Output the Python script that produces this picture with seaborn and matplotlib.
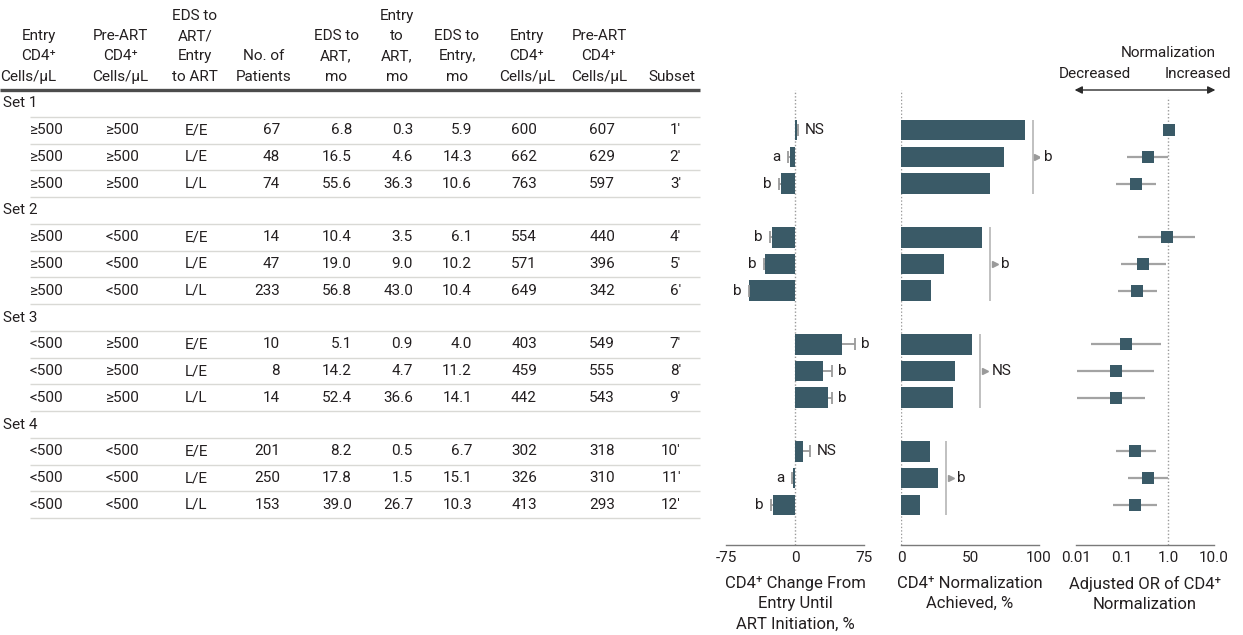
import numpy as np
import pandas as pd
import matplotlib
matplotlib.use("Agg")
import matplotlib.pyplot as plt
import matplotlib.transforms as mtransforms
import seaborn as sns

# === DATA ===
SET_NAMES = ["Set 1", "Set 2", "Set 3", "Set 4"]
ENTRY_CD4_GROUP = ["≥500"] * 6 + ["<500"] * 6
PREART_CD4_GROUP = ["≥500"] * 3 + ["<500"] * 3 + ["≥500"] * 3 + ["<500"] * 3
TIMING = ["E/E", "L/E", "L/L"] * 4
N_PATIENTS = [67, 48, 74, 14, 47, 233, 10, 8, 14, 201, 250, 153]
EDS_TO_ART = ["6.8", "16.5", "55.6", "10.4", "19.0", "56.8", "5.1", "14.2", "52.4", "8.2", "17.8", "39.0"]
ENTRY_TO_ART = ["0.3", "4.6", "36.3", "3.5", "9.0", "43.0", "0.9", "4.7", "36.6", "0.5", "1.5", "26.7"]
EDS_TO_ENTRY = ["5.9", "14.3", "10.6", "6.1", "10.2", "10.4", "4.0", "11.2", "14.1", "6.7", "15.1", "10.3"]
ENTRY_CD4 = [600, 662, 763, 554, 571, 649, 403, 459, 442, 302, 326, 413]
PREART_CD4 = [607, 629, 597, 440, 396, 342, 549, 555, 543, 318, 310, 293]
SUBSET = ["1′", "2′", "3′", "4′", "5′", "6′", "7′", "8′", "9′", "10′", "11′", "12′"]

# panel 1: CD4 change from entry until ART initiation, % (bar + one-sided error)
CD4_CHANGE = [2.0, -5.7, -14.7, -24.8, -32.8, -49.8, 50.9, 30.6, 35.7, 8.5, -2.4, -23.7]
CD4_CHANGE_ERR = [1.0, 2.1, 2.9, 2.9, 1.1, 0.7, 13.8, 9.1, 4.0, 7.6, 1.1, 2.9]
CD4_CHANGE_SIG = ["NS", "a", "b", "b", "b", "b", "b", "b", "b", "NS", "a", "b"]

# panel 2: CD4 normalization achieved, %
NORM_PCT = [89.6, 74.4, 64.5, 58.5, 31.4, 22.0, 51.4, 39.1, 37.5, 21.2, 26.8, 13.8]
NORM_SIG = ["b", "b", "NS", "b"]

# panel 3: adjusted OR of CD4 normalization (95% CI)
OR_EST = [1.05, 0.36, 0.20, 0.94, 0.29, 0.21, 0.124, 0.073, 0.073, 0.195, 0.36, 0.19]
OR_LO = [0.85, 0.126, 0.074, 0.22, 0.094, 0.083, 0.021, 0.0107, 0.0107, 0.074, 0.137, 0.063]
OR_HI = [1.25, 1.0, 0.55, 3.9, 0.89, 0.58, 0.69, 0.50, 0.31, 0.55, 1.0, 0.58]

HEADERS = [
    ["Entry", "CD4⁺", "Cells/µL"],
    ["Pre-ART", "CD4⁺", "Cells/µL"],
    ["EDS to", "ART/", "Entry", "to ART"],
    ["No. of", "Patients"],
    ["EDS to", "ART,", "mo"],
    ["Entry", "to", "ART,", "mo"],
    ["EDS to", "Entry,", "mo"],
    ["Entry", "CD4⁺", "Cells/µL"],
    ["Pre-ART", "CD4⁺", "Cells/µL"],
    ["Subset"],
]
X_LABELS = ["CD4⁺ Change From\nEntry Until\nART Initiation, %",
            "CD4⁺ Normalization\nAchieved, %",
            "Adjusted OR of CD4⁺\nNormalization"]

# === STYLE ===
BAR = "#3a5a67"
GREY = "#9a9a9a"
INK = "#231f20"
sns.set_theme(style="white")
plt.rcParams["font.family"] = ["Roboto", "DejaVu Sans"]
plt.rcParams["font.size"] = 11
plt.rcParams["text.color"] = INK

# row layout: set header rows at 0,4,8,12 ; subsets underneath
row_pos = np.array([4 * (i // 3) + 1 + i % 3 for i in range(12)])
set_pos = np.arange(4) * 4
YLIM = (16.5, -0.5)

FW, FH = 1243, 635
fig = plt.figure(figsize=(FW / 100, FH / 100), dpi=100)


def add_px_axes(x0, x1, top=90, bottom=545):
    return fig.add_axes([x0 / FW, 1 - bottom / FH, (x1 - x0) / FW, (bottom - top) / FH])


def py(px):
    # figure pixel row -> row units
    return (px - 103.5) / 26.76


# ---------- table ----------
axt = add_px_axes(0, 705)
axt.set_xlim(0, 705)
axt.set_ylim(*YLIM)
axt.axis("off")

# (x, alignment) of each column heading
head_x = [(56, "right"), (120, "center"), (195, "center"), (264, "center"),
          (336, "center"), (397, "center"), (457, "center"), (527, "center"),
          (599, "center"), (672, "center")]
for (cx, ha), lines in zip(head_x, HEADERS):
    for k, line in enumerate(reversed(lines)):
        axt.text(cx, py(77 - 20.4 * k), line, ha=ha, va="center")

axt.hlines(-0.5, 0, 700, color="#4d4d4d", lw=2.4, clip_on=False)

for name, p in zip(SET_NAMES, set_pos):
    axt.text(3, p, name, ha="left", va="center")

sep = np.concatenate([set_pos + 0.5, row_pos + 0.5])
axt.hlines(sep, 30, 700, color="#d9d9d5", lw=1)

cols = [
    (ENTRY_CD4_GROUP, 29, "left"),
    (PREART_CD4_GROUP, 105, "left"),
    (TIMING, 185, "left"),
    (N_PATIENTS, 280, "right"),
    (EDS_TO_ART, 352, "right"),
    (ENTRY_TO_ART, 413, "right"),
    (EDS_TO_ENTRY, 472, "right"),
    (ENTRY_CD4, 524, "center"),
    (PREART_CD4, 602, "center"),
    (SUBSET, 681, "right"),
]
for values, x, ha in cols:
    for v, p in zip(values, row_pos):
        axt.text(x, p, str(v), ha=ha, va="center")


def style_axis(ax, ticks, labels, label):
    for s in ["top", "left", "right"]:
        ax.spines[s].set_visible(False)
    ax.spines["bottom"].set_color("#7a7a7a")
    ax.spines["bottom"].set_linewidth(1)
    ax.set_ylim(*YLIM)
    ax.set_yticks([])
    ax.set_ylabel("")
    ax.set_xticks(ticks)
    ax.set_xticklabels(labels)
    ax.minorticks_off()
    ax.tick_params(axis="x", direction="in", length=4, width=1, color="#7a7a7a",
                   pad=4, labelsize=11, labelcolor=INK)
    ax.set_xlabel(label, linespacing=1.45, labelpad=8, color=INK)
    ax.set_facecolor("none")


df = pd.DataFrame({"pos": row_pos, "chg": CD4_CHANGE, "err": CD4_CHANGE_ERR,
                   "sig": CD4_CHANGE_SIG, "norm": NORM_PCT,
                   "or": OR_EST, "lo": OR_LO, "hi": OR_HI})

# ---------- panel 1 ----------
ax1 = add_px_axes(726, 864)
ax1.axvline(0, color=GREY, ls=(0, (1, 1.5)), lw=1, zorder=0)
sns.barplot(data=df, x="chg", y="pos", orient="y", native_scale=True, width=0.77,
            color=BAR, saturation=1, errorbar=None, linewidth=0, ax=ax1)
sign = np.sign(df["chg"])
ends = df["chg"] + sign * df["err"]
ax1.hlines(df["pos"], df["chg"], ends, color=GREY, lw=1.3, zorder=3)
ax1.plot(ends, df["pos"], ls="none", marker="|", markersize=9, mew=1.3, color=GREY, zorder=3)
for e, p, s, sg in zip(ends, df["pos"], df["sig"], sign):
    ax1.annotate(s, xy=(e, p), xytext=(5 * sg, 0), textcoords="offset points",
                 ha="left" if sg > 0 else "right", va="center", fontsize=11)
ax1.set_xlim(-75, 75)
style_axis(ax1, [-75, 0, 75], ["-75", "0", "75"], X_LABELS[0])

# ---------- panel 2 ----------
ax2 = add_px_axes(901, 1039)
ax2.axvline(0, color=GREY, ls=(0, (1, 1.5)), lw=1, zorder=0)
sns.barplot(data=df, x="norm", y="pos", orient="y", native_scale=True, width=0.77,
            color=BAR, saturation=1, errorbar=None, linewidth=0, ax=ax2)
tri = mtransforms.offset_copy(ax2.transData, fig=fig, x=4.5, y=0, units="dots")
for k in range(4):
    sub = df.iloc[3 * k:3 * k + 3]
    bx = sub["norm"].max() + 6
    ax2.vlines(bx, sub["pos"].min() - 0.39, sub["pos"].max() + 0.39, color="#b5b5b5", lw=1.2)
    mid = sub["pos"].iloc[1]
    ax2.plot([bx], [mid], marker=">", markersize=4.5, color=GREY, ls="none", transform=tri)
    ax2.annotate(NORM_SIG[k], xy=(bx, mid), xytext=(8, 0), textcoords="offset points",
                 ha="left", va="center", fontsize=11)
ax2.set_xlim(0, 100)
style_axis(ax2, [0, 50, 100], ["0", "50", "100"], X_LABELS[1])

# ---------- panel 3 ----------
ax3 = add_px_axes(1076, 1214)
ax3.set_xscale("log")
ax3.axvline(1, ymax=0.985, color=GREY, ls=(0, (1, 1.5)), lw=1, zorder=0)
ax3.hlines(df["pos"], df["lo"], df["hi"], color="#a3a3a3", lw=1.6, zorder=2)
sns.scatterplot(data=df, x="or", y="pos", marker="s", s=66, color=BAR, linewidth=0,
                zorder=3, ax=ax3, legend=False)
ax3.set_xlim(0.01, 10)
style_axis(ax3, [0.01, 0.1, 1, 10], ["0.01", "0.1", "1.0", "10.0"], X_LABELS[2])
ax3.annotate("", xy=(1.01, 1.0), xytext=(-0.01, 1.0), xycoords="axes fraction",
             arrowprops=dict(arrowstyle="<|-|>", color="#2b2b2b", lw=1,
                             shrinkA=0, shrinkB=0, mutation_scale=11))
bt = mtransforms.blended_transform_factory(ax3.transAxes, ax3.transData)
ax3.text(0.667, py(53), "Normalization", ha="center", va="center", transform=bt)
ax3.text(0.138, py(74), "Decreased", ha="center", va="center", transform=bt)
ax3.text(0.887, py(74), "Increased", ha="center", va="center", transform=bt)

fig.savefig("out.png", dpi=100, facecolor="white")
